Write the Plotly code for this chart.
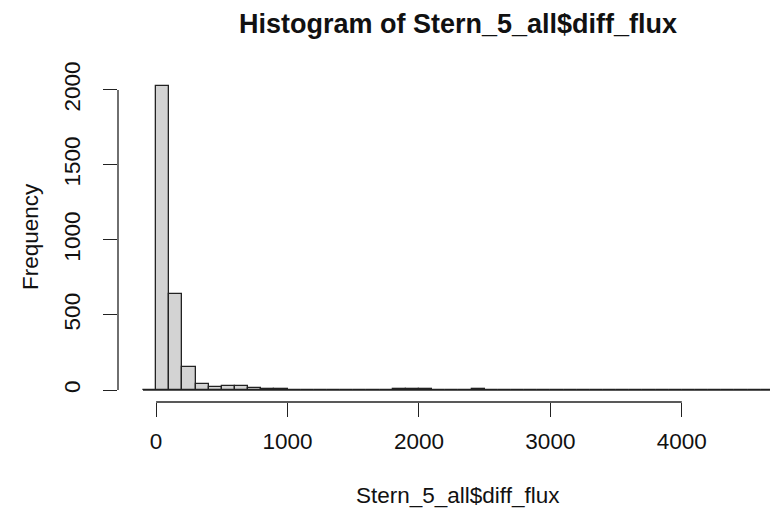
import plotly.graph_objects as go

# histogram bins (width 100) and counts
bin_start = -100
bin_width = 100
counts = [0, 2025, 638, 155, 38, 20, 30, 25, 12, 6,
          4, 3, 2, 2, 1, 2, 1, 2, 3, 4,
          6, 4, 3, 3, 3, 5, 3, 2, 2, 1,
          1, 2, 1, 1, 1, 1, 1, 1, 1, 1,
          1, 1, 1, 2, 1, 1, 1, 1]
edges = [bin_start + i * bin_width for i in range(len(counts) + 1)]
centers = [(edges[i] + edges[i + 1]) / 2 for i in range(len(counts))]

x_ticks = [0, 1000, 2000, 3000, 4000]
y_ticks = [0, 500, 1000, 1500, 2000]

title = "Histogram of Stern_5_all$diff_flux"
x_label = "Stern_5_all$diff_flux"
y_label = "Frequency"

# page has an 8px body margin; work in page pixels and offset
OFF = 8
W, H = 778 - OFF, 513 - OFF
L, R, T, B = 118 - OFF, 0, 73 - OFF, 111
pw, ph = W - L - R, H - T - B

def px_x(p):
    return (p - OFF - L) / pw

def px_y(p):
    return (H - B - (p - OFF)) / ph

FONT = "Liberation Sans, Arial, Helvetica, sans-serif"
FS = 22.5

fig = go.Figure()
fig.add_trace(go.Bar(
    x=centers, y=counts, width=bin_width,
    marker=dict(color="#d3d3d3", line=dict(color="#222222", width=1.3)),
    hoverinfo="x+y",
))

shapes = [
    dict(type="line", xref="x", yref="y", x0=edges[0], x1=edges[-1], y0=0, y1=0,
         line=dict(color="#222222", width=1.3)),
    dict(type="line", xref="x", yref="paper", x0=x_ticks[0], x1=x_ticks[-1], y0=0, y1=0,
         line=dict(color="#222222", width=1.3)),
    dict(type="line", xref="paper", yref="y", x0=0, x1=0, y0=y_ticks[0], y1=y_ticks[-1],
         line=dict(color="#222222", width=1.3)),
]

fig.update_layout(
    width=W, height=H,
    margin=dict(l=L, r=R, t=T, b=B, pad=0),
    paper_bgcolor="white", plot_bgcolor="white",
    showlegend=False, bargap=0,
    font=dict(family=FONT, size=FS, color="#111111"),
    title=dict(text="<b>" + title + "</b>", xref="container", yref="container",
               x=(458 - OFF) / W, y=1 - (24 - OFF) / H, xanchor="center", yanchor="middle",
               font=dict(size=27, family=FONT, color="#111111")),
    xaxis=dict(range=[-290, 4732], tickvals=x_ticks, ticktext=[str(v) for v in x_ticks],
               ticks="outside", ticklen=14, tickwidth=1.3, tickcolor="#222222",
               showline=False, showgrid=False, zeroline=False,
               ticklabelstandoff=5, tickfont=dict(size=FS)),
    yaxis=dict(range=[-80, 2113], tickvals=y_ticks, ticktext=[str(v) for v in y_ticks],
               ticks="outside", ticklen=14, tickwidth=1.3, tickcolor="#222222",
               showline=False, showgrid=False, zeroline=False, tickangle=-90,
               ticklabelstandoff=14, tickfont=dict(size=FS)),
    shapes=shapes,
    annotations=[
        dict(text=x_label, xref="paper", yref="paper", x=px_x(458), y=px_y(495),
             xanchor="center", yanchor="middle", showarrow=False,
             font=dict(size=FS, family=FONT, color="#111111")),
        dict(text=y_label, xref="paper", yref="paper", x=px_x(30), y=px_y(237),
             xanchor="center", yanchor="middle", showarrow=False, textangle=-90,
             font=dict(size=FS, family=FONT, color="#111111")),
    ],
)

fig.write_html("out.html")
